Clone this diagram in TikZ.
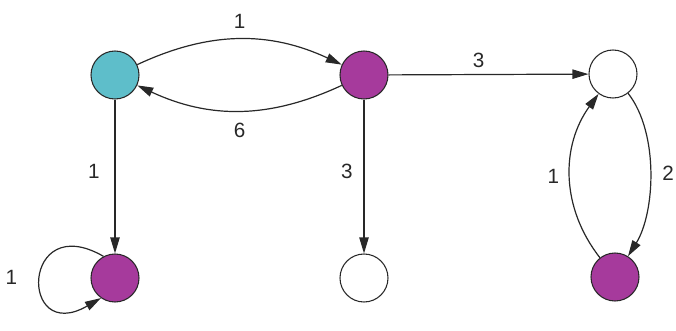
\documentclass[tikz,border=0pt]{standalone}
\usepackage{fontspec}
\setmainfont{Liberation Sans}
\usetikzlibrary{arrows.meta}
\definecolor{nodecyan}{RGB}{94,190,202}
\definecolor{nodepurple}{RGB}{166,58,156}
\definecolor{edgegray}{RGB}{40,40,40}
\begin{document}
\begin{tikzpicture}[x=0.75pt,y=0.75pt,
  vertex/.style={circle, draw=edgegray, line width=0.8pt, minimum size=36pt, inner sep=0pt},
  cyanv/.style={vertex, fill=nodecyan},
  purplev/.style={vertex, fill=nodepurple},
  whitev/.style={vertex, fill=white},
  conn/.style={draw=edgegray, line width=0.9pt, -{Triangle[length=12pt,width=7pt]}},
  lbl/.style={font=\fontsize{15.5}{17}\selectfont, text=edgegray, inner sep=0pt}]
\useasboundingbox (0,0) rectangle (676,330);
\node[cyanv] (cy) at (115,255) {};
\node[purplev] (pt) at (364,255) {};
\node[whitev] (wt) at (613,256) {};
\node[purplev] (bl) at (115,52) {};
\node[whitev] (bm) at (364,52) {};
\node[purplev] (br) at (615,53) {};

\draw[conn] (cy) to[bend left=25] node[lbl, midway, above=8pt] (l1) {1} (pt);
\draw[conn] (pt) to[bend left=25] node[lbl, midway, below=9pt] (l6) {6} (cy);
\draw[conn] (pt) -- node[lbl, pos=0.45, above=5pt] (l3a) {3} (wt);
\draw[conn] (cy) -- node[lbl, pos=0.47, left=11pt] (l1b) {1} (bl);
\draw[conn] (pt) -- node[lbl, pos=0.47, left=8pt] (l3b) {3} (bm);
\draw[conn] (wt) to[out=-52,in=58,looseness=0.8] node[lbl, midway, right=9pt] (l2) {2} (br);
\draw[conn] (br) to[out=128,in=-126] node[lbl, midway, left=8pt] (l1c) {1} (wt);
\draw[conn] (bl.118) .. controls +(150:95) and +(210:95) .. node[lbl, midway, left=17pt] (l1d) {1} (bl.235);
\end{tikzpicture}
\end{document}
